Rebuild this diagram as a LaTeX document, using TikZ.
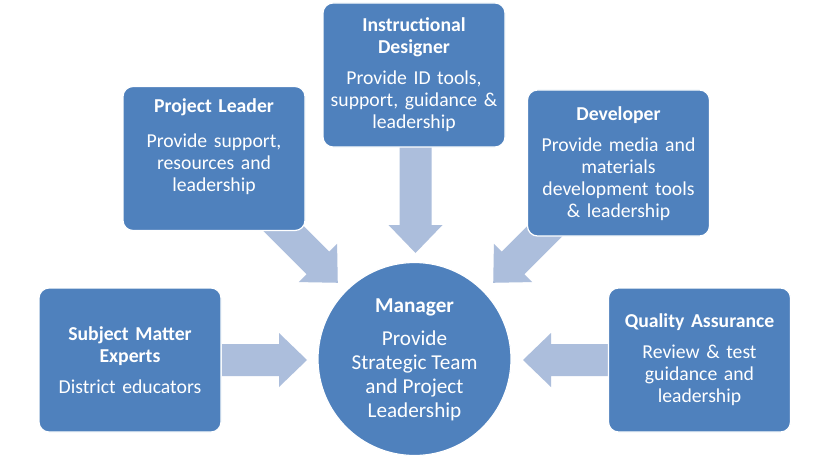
\documentclass[tikz,border=0pt]{standalone}
\usepackage{fontspec}
\setmainfont{Carlito}
\usetikzlibrary{calc}

\definecolor{roleblue}{RGB}{79,129,189}
\definecolor{arrowblue}{RGB}{172,190,220}

% block arrow: start point, angle, length
\newcommand{\blockarrow}[3]{%
  \fill[arrowblue, shift={(#1)}, rotate=#2]
    (0,16) -- (#3-28,16) -- (#3-28,27) -- (#3,0) -- (#3-28,-27)
    -- (#3-28,-16) -- (0,-16) -- cycle;}

\begin{document}
\begin{tikzpicture}[x=1pt, y=1pt,
    rolebox/.style={draw=white, line width=1.2pt, fill=roleblue, rounded corners=10pt,
      minimum width=182pt, minimum height=144pt, text width=178pt, align=center,
      text=white, inner sep=0pt, font=\fontsize{19.7}{22}\selectfont},
    hub/.style={circle, draw=white, line width=1.2pt, fill=roleblue,
      minimum size=193pt, inner sep=0pt, align=center, text=white,
      font=\fontsize{21.2}{24}\selectfont}]
    \fill[white] (0,0) rectangle (830,459);
    \useasboundingbox (0,0) rectangle (830,459);

    % helper points for the arrows, boxes come later so they sit on top
    \coordinate (plfoot) at (260,254);
    \coordinate (devfoot) at (571,254);
    \coordinate (idfoot) at (415.5,312);
    \coordinate (smeside) at (222,99);
    \coordinate (qaside) at (609,99);

    % arrows into the manager
    \blockarrow{plfoot}{-45}{110}
    \blockarrow{devfoot}{-135}{110}
    \blockarrow{idfoot}{-90}{106}
    \blockarrow{smeside}{0}{85}
    \blockarrow{qaside}{180}{86}

    % role boxes
    \node[rolebox] (pl) at (214,300.5) {\textbf{Project Leader}\\[13pt]
      Provide support,\\ resources and\\ leadership\\[-2pt]\strut};
    \node[rolebox] (id) at (414,384) {\textbf{Instructional}\\ \textbf{Designer}\\[9pt]
      Provide ID tools,\\ support, guidance \&\\ leadership\\[-24pt]\strut};
    \node[rolebox, minimum height=146pt] (dev) at (618.5,296) {\textbf{Developer}\\[9pt]
      Provide media and\\ materials\\ development tools\\ \& leadership\\[-26pt]\strut};
    \node[rolebox] (sme) at (130,99) {\textbf{Subject Matter}\\ \textbf{Experts}\\[9pt]
      District educators};
    \node[rolebox] (qa) at (699.5,99) {\textbf{Quality Assurance}\\[9pt]
      Review \& test\\ guidance and\\ leadership\\[-24pt]\strut};

    % the hub
    \node[hub] (mgr) at (414.5,100) {\textbf{Manager}\\[9pt]
      Provide\\ Strategic Team\\ and Project\\ Leadership\\[-30pt]\strut};
\end{tikzpicture}
\end{document}
